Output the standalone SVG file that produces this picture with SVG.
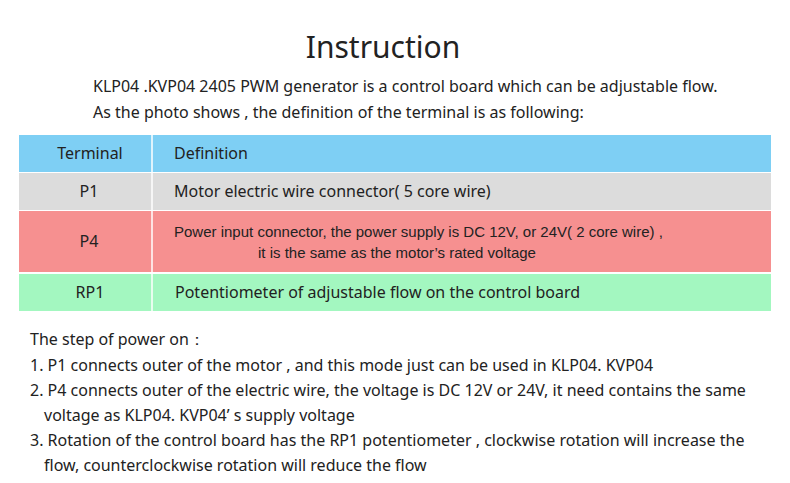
<svg xmlns="http://www.w3.org/2000/svg" width="790" height="483" viewBox="0 0 790 483">
<style>
.t{font-family:"Noto Sans","Open Sans",sans-serif;fill:#222}
.b{font-size:16px}
.a{font-family:"Liberation Sans",Arial,sans-serif;fill:#222;font-size:15px}
.c{text-anchor:middle}
</style>
<rect width="790" height="483" fill="#fff"/>
<text class="t c" x="383" y="58" font-size="30">Instruction</text>
<text class="t b" x="93" y="92">KLP04 .KVP04 2405 PWM generator is a control board which can be adjustable flow.</text>
<text class="t b" x="93" y="118">As the  photo shows , the definition of the terminal is as following:</text>
<g id="table">
<rect x="19" y="135" width="752" height="37" fill="#7ecff4"/>
<rect x="19" y="173" width="752" height="37" fill="#dcdcdc"/>
<rect x="19" y="211" width="752" height="61" fill="#f69090"/>
<rect x="19" y="274" width="752" height="37" fill="#a3f7c0"/>
<line x1="152" y1="135" x2="152" y2="311" stroke="#fff" stroke-width="1.5"/>
<text class="t b c" x="90" y="159">Terminal</text><text class="t b" x="174" y="159">Definition</text>
<text class="t b c" x="89" y="197">P1</text><text class="t b" x="174" y="197">Motor electric wire connector( 5 core wire)</text>
<text class="t b c" x="89" y="247">P4</text>
<text class="a" x="174" y="237">Power input connector, the power supply is DC 12V, or 24V( 2 core wire) ,</text>
<text class="a" x="258" y="258">it is the same as the motor’s  rated voltage</text>
<text class="t b c" x="90" y="298">RP1</text><text class="t b" x="175" y="298">Potentiometer of adjustable  flow  on the control board</text>
</g>
<g class="t b">
<text x="30" y="345">The step of power on：</text>
<text x="30" y="371">1. P1  connects outer of the motor , and this mode just can be used in KLP04. KVP04</text>
<text x="30" y="396">2. P4 connects outer of the electric wire, the voltage is DC 12V or 24V, it need contains the same</text>
<text x="44" y="421">voltage as KLP04. KVP04’  s supply  voltage</text>
<text x="30" y="446">3. Rotation of the control board has the RP1 potentiometer , clockwise rotation will increase the</text>
<text x="44" y="471">flow, counterclockwise rotation will reduce the flow</text>
</g>
</svg>
